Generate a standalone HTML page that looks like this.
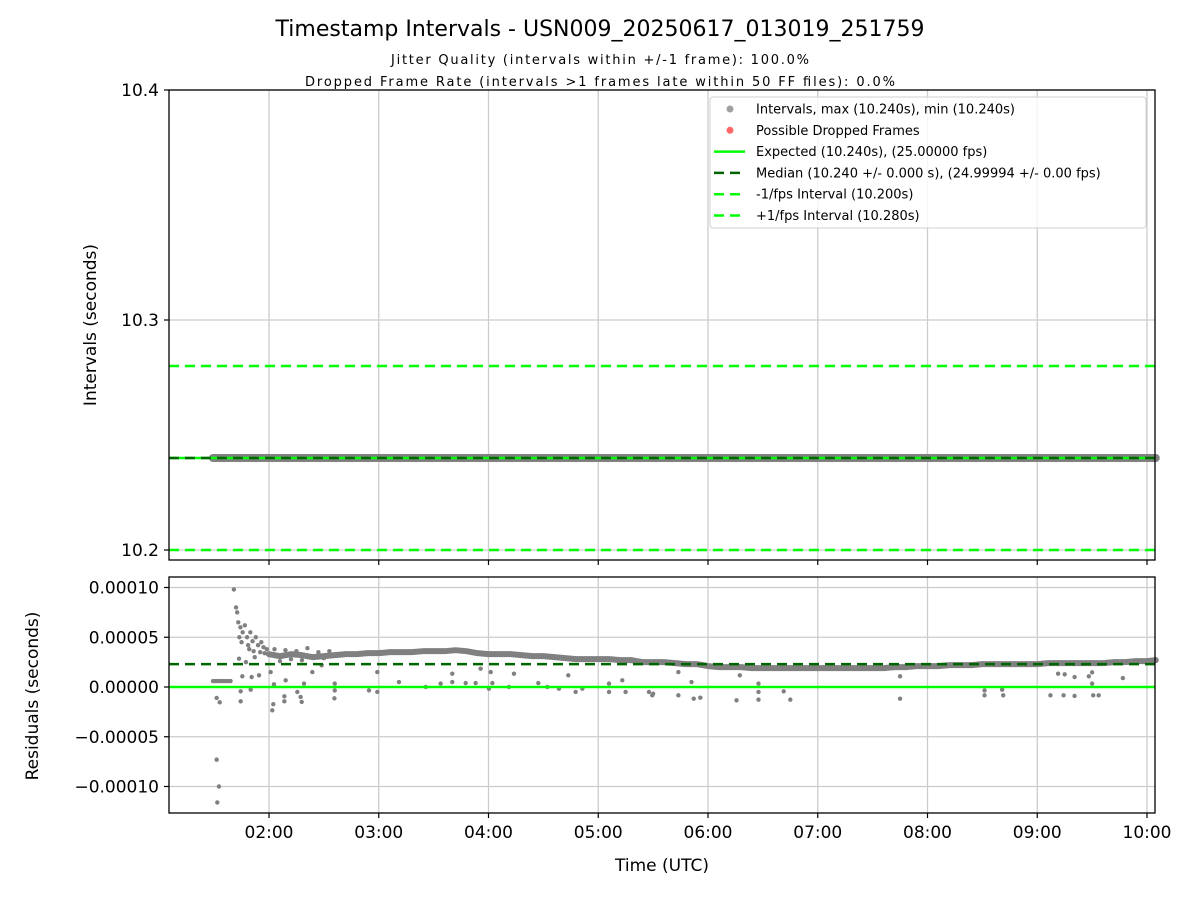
<!DOCTYPE html>
<html><head><meta charset="utf-8"><style>
html,body{margin:0;padding:0;background:#fff;}
svg text{font-family:"DejaVu Sans","Liberation Sans",sans-serif;fill:#000;}
</style></head><body>
<svg id="chart" width="1200" height="900" viewBox="0 0 1200 900" xmlns="http://www.w3.org/2000/svg">
<rect width="1200" height="900" fill="#fff"/>
<text x="600" y="36" font-size="22" text-anchor="middle">Timestamp Intervals - USN009_20250617_013019_251759</text>
<text x="600" y="64" font-size="13" text-anchor="middle" textLength="418">Jitter Quality (intervals within +/-1 frame): 100.0%</text>
<text x="600" y="86" font-size="13" text-anchor="middle" textLength="590">Dropped Frame Rate (intervals &gt;1 frames late within 50 FF files): 0.0%</text>
<g id="topPanel"></g>
<g id="botPanel"></g>
</svg>
<script>
// ---- data ----
const xTickHours = [2,3,4,5,6,7,8,9,10];
const xTickLabels = ["02:00","03:00","04:00","05:00","06:00","07:00","08:00","09:00","10:00"];
const topTicks = [10.2,10.3,10.4];
const topTickLabels = ["10.2","10.3","10.4"];
const botTicks = [10,5,0,-5,-10];
const botTickLabels = ["0.00010","0.00005","0.00000","\u22120.00005","\u22120.00010"];
const intervalStart = 1.49, intervalEnd = 10.08, intervalValue = 10.240;
const expectedInterval = 10.240, medianInterval = 10.240, minusInterval = 10.200, plusInterval = 10.280;
const medianResidual = 2.3; // x1e-5
const bandHours = [2.0,2.1,2.2,2.3,2.4,2.5,2.6,2.7,2.8,2.9,3.0,3.1,3.2,3.3,3.4,3.5,3.6,3.7,3.8,3.9,4.0,4.1,4.2,4.3,4.4,4.5,4.6,4.7,4.8,4.9,5.0,5.1,5.2,5.3,5.4,5.5,5.6,5.7,5.8,5.9,6.0,6.1,6.2,6.3,6.4,6.5,6.6,6.7,6.8,6.9,7.0,7.1,7.2,7.3,7.4,7.5,7.6,7.7,7.8,7.9,8.0,8.1,8.2,8.3,8.4,8.5,8.6,8.7,8.8,8.9,9.0,9.1,9.2,9.3,9.4,9.5,9.6,9.7,9.8,9.9,10.0,10.08];
const bandVals = [3.3,3.1,3.3,3.2,3.0,3.1,3.2,3.3,3.3,3.4,3.4,3.5,3.5,3.5,3.6,3.6,3.6,3.7,3.6,3.4,3.3,3.3,3.3,3.2,3.1,3.1,3.0,2.9,2.8,2.8,2.8,2.8,2.7,2.7,2.5,2.5,2.5,2.4,2.3,2.3,2.1,2.0,2.0,2.0,1.9,1.9,1.9,1.9,1.9,1.9,1.9,1.9,1.9,1.9,1.9,1.9,1.9,2.0,2.0,2.1,2.1,2.1,2.2,2.2,2.2,2.3,2.3,2.3,2.3,2.3,2.3,2.4,2.4,2.4,2.4,2.4,2.4,2.5,2.5,2.6,2.6,2.7];
const scatterHours = [1.68,1.70,1.71,1.72,1.74,1.76,1.78,1.80,1.83,1.85,1.88,1.90,1.93,1.95,1.98,1.99,1.75,1.82,1.87,1.79,1.73,1.81,1.86,1.92,1.96,2.05,2.1,2.15,2.2,2.25,2.3,2.35,2.45,2.5,2.55,
 1.49,1.51,1.53,1.55,1.57,1.59,1.61,1.63,1.65,1.523,1.544,1.529,
 1.523,1.551,1.742,1.742,1.757,1.727,1.842,1.909,1.833,2.03,2.039,2.015,2.045,2.152,2.14,2.14,2.258,2.288,2.298,2.319,2.395,2.48,2.599,2.599,2.596,2.911,2.987,2.987,3.184,3.428,3.564,3.67,3.67,3.792,3.883,3.928,4.004,4.02,4.035,4.186,4.232,4.454,4.536,4.642,4.727,4.794,4.855,5.098,5.098,5.219,5.249,5.462,5.492,
 5.50,5.73,5.73,5.85,5.87,5.93,6.29,6.26,6.46,6.46,6.46,6.69,6.75,7.75,7.75,8.52,8.52,8.68,8.69,9.12,9.19,9.24,9.25,9.34,9.34,9.47,9.50,9.50,9.51,9.56,9.78];
const scatterVals = [9.8,8.0,7.5,6.5,6.0,5.5,6.2,5.0,5.5,4.6,5.0,4.2,4.5,4.0,3.8,3.3,4.5,3.8,3.0,2.5,5.0,4.2,3.6,3.5,3.4,3.8,2.6,3.7,2.8,3.6,2.7,3.9,3.5,2.9,3.6,
 0.6,0.6,0.6,0.6,0.6,0.6,0.6,0.6,0.6,-7.3,-10.0,-11.6,
 -1.1,-1.54,-0.43,-1.44,1.07,2.85,1.0,1.17,-0.27,-2.34,-1.73,1.5,0.27,0.67,-0.94,-1.44,-0.5,-1.0,-1.5,0.34,1.5,2.18,0.34,-0.34,-1.14,-0.34,-0.5,1.5,0.5,0,0.34,1.34,0.5,0.4,0.4,1.84,-0.17,1.5,0.4,0,1.34,0.4,0,-0.17,1.17,-0.5,-0.17,0.34,-0.5,0.67,-0.5,-0.5,-0.84,
 -0.67,1.5,-0.84,0.5,-1.17,-1.07,1.17,-1.34,0.34,-0.5,-1.27,-0.44,-1.27,1.07,-1.17,-0.34,-0.84,-0.27,-0.84,-0.84,1.34,-0.84,1.27,1.0,-0.9,1.07,1.47,0.34,-0.84,-0.84,0.9];

// ---- axes ----
const L=169,R=1155;
const xs=h=>269+(h-2)*109.75;
const ty=v=>90+(10.4-v)*2300;
const by=v=>687-v*9.95;
const NS="http://www.w3.org/2000/svg";
function mk(p,tag,a){const e=document.createElementNS(NS,tag);for(const k in a)e.setAttribute(k,a[k]);p.appendChild(e);return e;}
const topG=document.getElementById('topPanel'), botG=document.getElementById('botPanel');

function grid(g,y0,y1,yTicks,yf){
  xTickHours.forEach(h=>{const l=mk(g,'line',{x1:xs(h),x2:xs(h),y1:y0,y2:y1,stroke:'#cccccc','stroke-width':1.3});
  
  });
  yTicks.forEach(v=>{const l=mk(g,'line',{x1:L,x2:R,y1:yf(v),y2:yf(v),stroke:'#cccccc','stroke-width':1.3});
  
  });
}
function hl(g,y,c,dash,w,name){const l=mk(g,'line',{x1:L,x2:R,y1:y,y2:y,stroke:c,'stroke-width':w});if(dash)l.setAttribute('stroke-dasharray',dash);
  
  return l;}

// top panel
const T0=90,T1=560;
grid(topG,T0,T1,topTicks,ty);
const band=mk(topG,'line',{x1:xs(intervalStart),x2:xs(intervalEnd),y1:ty(intervalValue),y2:ty(intervalValue),stroke:'#808080','stroke-width':8,'stroke-linecap':'round'});


hl(topG,ty(expectedInterval),'#00ff00',null,2.5,'expected-line');
hl(topG,ty(medianInterval),'#006400','10,6',2.5,'median-line');
hl(topG,ty(minusInterval),'#00ff00','10,6',2.5,'minus-fps-line');
hl(topG,ty(plusInterval),'#00ff00','10,6',2.5,'plus-fps-line');
const tf=mk(topG,'rect',{x:L,y:T0,width:R-L,height:T1-T0,fill:'none',stroke:'#000','stroke-width':1.3});


topTicks.forEach((v,i)=>{mk(topG,'line',{x1:L-5,x2:L,y1:ty(v),y2:ty(v),stroke:'#000','stroke-width':1.2});
  const t=mk(topG,'text',{x:L-10,y:ty(v)+6,'font-size':17,'text-anchor':'end'});t.textContent=topTickLabels[i];
  
  });
xTickHours.forEach(h=>mk(topG,'line',{x1:xs(h),x2:xs(h),y1:T1,y2:T1+5,stroke:'#000','stroke-width':1.2}));
const tyt=mk(topG,'text',{x:96,y:325,'font-size':17,'text-anchor':'middle',transform:'rotate(-90 96 325)'});tyt.textContent='Intervals (seconds)';



// legend
const lg=mk(topG,'g',{});


mk(lg,'rect',{x:710,y:97,width:436,height:131,rx:3,fill:'#fff','fill-opacity':0.8,stroke:'#d0d0d0'});
const items=[["dot","#a0a0a0","Intervals, max (10.240s), min (10.240s)"],["dot","#ff6666","Possible Dropped Frames"],["solid","#00ff00","Expected (10.240s), (25.00000 fps)"],["dash","#006400","Median (10.240 +/- 0.000 s), (24.99994 +/- 0.00 fps)"],["dash","#00ff00","-1/fps Interval (10.200s)"],["dash","#00ff00","+1/fps Interval (10.280s)"]];
items.forEach((it,i)=>{const y=109+i*21.3;
  if(it[0]==="dot")mk(lg,'circle',{cx:730,cy:y,r:3.5,fill:it[1]});
  else {const l=mk(lg,'line',{x1:714,x2:745,y1:y,y2:y,stroke:it[1],'stroke-width':2.5});if(it[0]==="dash")l.setAttribute('stroke-dasharray','10,6');}
  const t=mk(lg,'text',{x:756,y:y+4.5,'font-size':13});t.textContent=it[2];
  
  });

// bottom panel
const B0=577,B1=813;
grid(botG,B0,B1,botTicks,by);
const pl=mk(botG,'polyline',{points:bandHours.map((h,i)=>xs(h)+','+by(bandVals[i])).join(' '),fill:'none',stroke:'#808080','stroke-width':6,'stroke-linejoin':'round','stroke-linecap':'round'});


scatterHours.forEach((h,i)=>{const c=mk(botG,'circle',{cx:xs(h),cy:by(scatterVals[i]),r:2.2,fill:'#808080'});
  
  });
hl(botG,by(0),'#00ff00',null,2.5,'expected-residual-line');
hl(botG,by(medianResidual),'#006400','10,6',2.5,'median-residual-line');
const bf=mk(botG,'rect',{x:L,y:B0,width:R-L,height:B1-B0,fill:'none',stroke:'#000','stroke-width':1.3});


botTicks.forEach((v,i)=>{mk(botG,'line',{x1:L-5,x2:L,y1:by(v),y2:by(v),stroke:'#000','stroke-width':1.2});
  const t=mk(botG,'text',{x:L-10,y:by(v)+6,'font-size':17,'text-anchor':'end'});t.textContent=botTickLabels[i];
  
  });
xTickHours.forEach((h,i)=>{mk(botG,'line',{x1:xs(h),x2:xs(h),y1:B1,y2:B1+5,stroke:'#000','stroke-width':1.2});
  const t=mk(botG,'text',{x:xs(h),y:B1+25,'font-size':17,'text-anchor':'middle'});t.textContent=xTickLabels[i];
  
  });
const xt=mk(botG,'text',{x:662,y:871,'font-size':17,'text-anchor':'middle'});xt.textContent='Time (UTC)';


const byt=mk(botG,'text',{x:38,y:696,'font-size':17,'text-anchor':'middle',transform:'rotate(-90 38 696)'});byt.textContent='Residuals (seconds)';


</script>
</body></html>
